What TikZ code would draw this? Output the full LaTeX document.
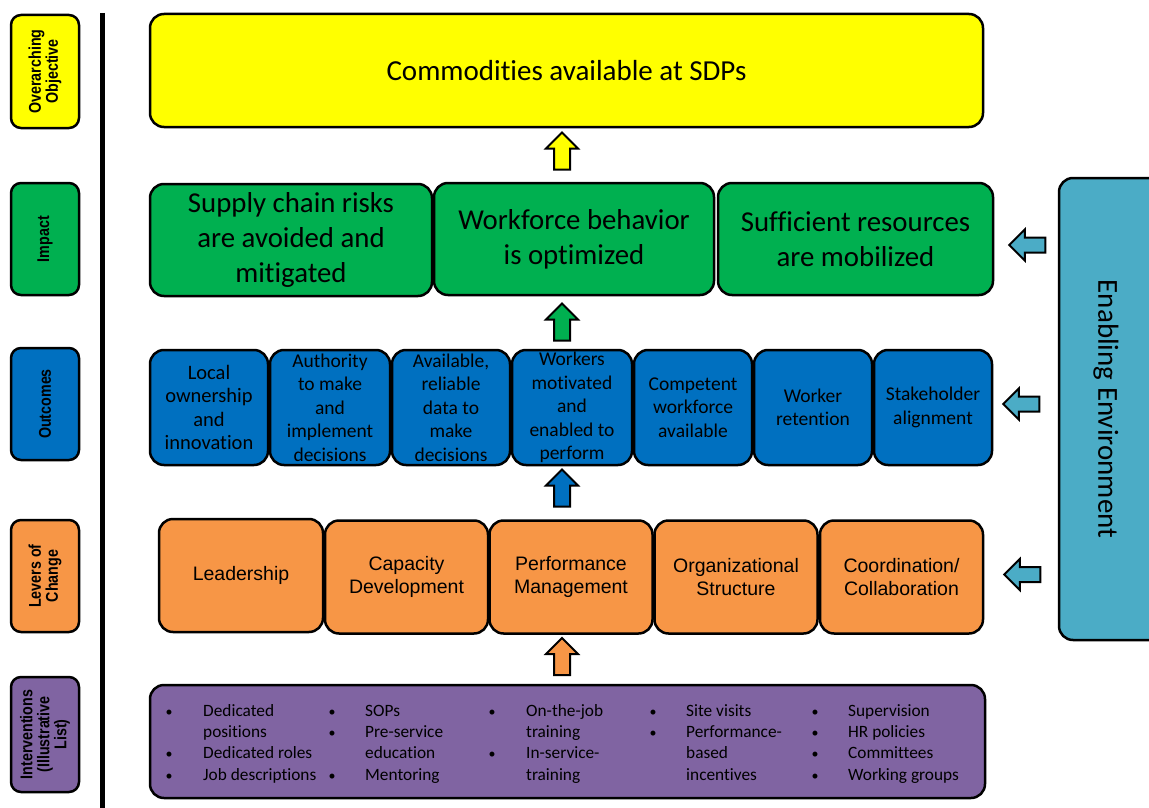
\documentclass[tikz,border=0pt]{standalone}
\usepackage{fontspec}
\setmainfont[Ligatures=CommonOff]{Carlito}
\newfontfamily\arialf{Liberation Sans}
\newfontfamily\narrowf[FakeStretch=0.84]{Liberation Sans}
\usetikzlibrary{shapes.arrows}
\definecolor{cyellow}{HTML}{FFFF00}
\definecolor{cgreen}{HTML}{00B050}
\definecolor{cblue}{HTML}{0070C0}
\definecolor{corange}{HTML}{F79646}
\definecolor{cpurple}{HTML}{8064A2}
\definecolor{cteal}{HTML}{4BACC6}
\tikzset{
  box/.style={draw=black, line width=2.5pt, rounded corners=14pt, align=center, inner sep=0pt, text=black},
  lbl/.style={draw=black, line width=2.5pt, rounded corners=10pt, align=center, inner sep=0pt, rotate=90,
     minimum height=68pt, font=\narrowf\bfseries\fontsize{17}{17}\selectfont},
  upar/.style={single arrow, draw=black, line width=2pt, inner sep=7pt, single arrow head extend=8pt,
     minimum height=37pt, rotate=90},
  lfar/.style={single arrow, draw=black, line width=2pt, fill=cteal, inner sep=6.5pt, single arrow head extend=8pt,
     minimum height=36pt, rotate=180},
  imp/.style={box, fill=cgreen, minimum height=112pt, font=\fontsize{28.8}{35}\selectfont},
  outc/.style={box, fill=cblue, minimum height=115pt, font=\fontsize{19.5}{23.5}\selectfont},
  lev/.style={box, fill=corange, minimum height=113pt, font=\arialf\fontsize{19.5}{23}\selectfont},
  bul/.style={anchor=mid, inner sep=0pt, font=\fontsize{14}{21}\selectfont},
  itm/.style={anchor=mid west, inner sep=0pt, font=\fontsize{17.3}{21}\selectfont},
}
\begin{document}
\begin{tikzpicture}[x=1pt,y=-1pt]
\useasboundingbox (0,0) rectangle (1149,808);
\clip (0,0) rectangle (1149,808);
% left labels
\node[lbl, fill=cyellow, minimum width=113pt] (l1) at (45,71.5) {Overarching\\Objective};
\node[lbl, fill=cgreen, minimum width=112pt] (l2) at (45,239) {Impact};
\node[lbl, fill=cblue, minimum width=112pt] (l3) at (45,404) {Outcomes};
\node[lbl, fill=corange, minimum width=112pt] (l4) at (45,576) {Levers of\\Change};
\node[lbl, fill=cpurple, minimum width=115pt] (l5) at (45,734.5) {Interventions\\(Illustrative\\List)};
% separator line
\draw[line width=5.5pt] (102.5,13) -- (102.5,808);
% objective
\node[box, fill=cyellow, minimum width=833pt, minimum height=113pt, font=\fontsize{29}{35}\selectfont] (obj) at (566.5,70.5) {Commodities available at SDPs};
% impact
\node[imp, minimum width=282pt] (i1) at (291,240) {Supply chain risks\\are avoided and\\mitigated};
\node[imp, minimum width=280pt] (i2) at (574,239) {Workforce behavior\\is optimized};
\node[imp, minimum width=275pt] (i3) at (855.5,239) {Sufficient resources\\are mobilized};
% outcomes
\node[outc, minimum width=118pt, font=\fontsize{20.5}{23.5}\selectfont] (o1) at (209,407.5) {Local\\ownership\\and\\innovation};
\node[outc, minimum width=120pt] (o2) at (330,407.5) {Authority\\to make\\and\\implement\\decisions};
\node[outc, minimum width=118pt] (o3) at (451,407.5) {Available,\\reliable\\data to\\make\\decisions};
\node[outc, minimum width=120pt] (o4) at (572,407.5) {Workers\\motivated\\and\\enabled to\\perform};
\node[outc, minimum width=118pt] (o5) at (693,407.5) {Competent\\workforce\\available};
\node[outc, minimum width=118pt] (o6) at (813,407.5) {Worker\\retention};
\node[outc, minimum width=118pt] (o7) at (933,407.5) {Stakeholder\\alignment};
% levers
\node[lev, minimum width=164pt] (v1) at (241,575.5) {Leadership};
\node[lev, minimum width=163pt] (v2) at (406.5,577) {Capacity\\Development};
\node[lev, minimum width=163pt] (v3) at (571,577) {Performance\\Management};
\node[lev, minimum width=163pt] (v4) at (736,577) {Organizational\\Structure};
\node[lev, minimum width=163pt] (v5) at (901.5,577) {Coordination/\\Collaboration};
% interventions
\node[box, fill=cpurple, minimum width=835pt, minimum height=113pt] (int) at (567.5,741.5) {};
% column 1
\node[bul] (b11) at (169,714) {•};
\node[itm] (t11) at (203,714) {Dedicated};
\node[itm] (t12) at (203,735) {positions};
\node[bul] (b13) at (169,756) {•};
\node[itm] (t13) at (203,756) {Dedicated roles};
\node[bul] (b14) at (169,778) {•};
\node[itm] (t14) at (203,778) {Job descriptions};
% column 2
\node[bul] (b21) at (332,714) {•};
\node[itm] (t21) at (365,714) {SOPs};
\node[bul] (b22) at (332,735) {•};
\node[itm] (t22) at (365,735) {Pre-service};
\node[itm] (t23) at (365,756) {education};
\node[bul] (b24) at (332,778) {•};
\node[itm] (t24) at (365,778) {Mentoring};
% column 3
\node[bul] (b31) at (492,714) {•};
\node[itm] (t31) at (526,714) {On-the-job};
\node[itm] (t32) at (526,735) {training};
\node[bul] (b33) at (492,756) {•};
\node[itm] (t33) at (526,756) {In-service-};
\node[itm] (t34) at (526,778) {training};
% column 4
\node[bul] (b41) at (653,714) {•};
\node[itm] (t41) at (686,714) {Site visits};
\node[bul] (b42) at (653,735) {•};
\node[itm] (t42) at (686,735) {Performance-};
\node[itm] (t43) at (686,756) {based};
\node[itm] (t44) at (686,778) {incentives};
% column 5
\node[bul] (b51) at (815,714) {•};
\node[itm] (t51) at (848,714) {Supervision};
\node[bul] (b52) at (815,735) {•};
\node[itm] (t52) at (848,735) {HR policies};
\node[bul] (b53) at (815,756) {•};
\node[itm] (t53) at (848,756) {Committees};
\node[bul] (b54) at (815,778) {•};
\node[itm] (t54) at (848,778) {Working groups};
% up arrows
\node[upar, fill=cyellow] (a1) at (562,155) {};
\node[upar, fill=cgreen] (a2) at (562,326) {};
\node[upar, fill=cblue] (a3) at (562,492) {};
\node[upar, fill=corange] (a4) at (562,660.5) {};
% enabling environment
\node[box, fill=cteal, rotate=-90, minimum width=462pt, minimum height=120pt] (env) at (1119,409) {};
\node[rotate=-90, inner sep=0pt, font=\fontsize{29}{35}\selectfont] (envt) at (1106,409) {Enabling Environment};
\node[lfar] (e1) at (1031,245) {};
\node[lfar] (e2) at (1025,404) {};
\node[lfar] (e3) at (1026,574.5) {};
\end{tikzpicture}
\end{document}
